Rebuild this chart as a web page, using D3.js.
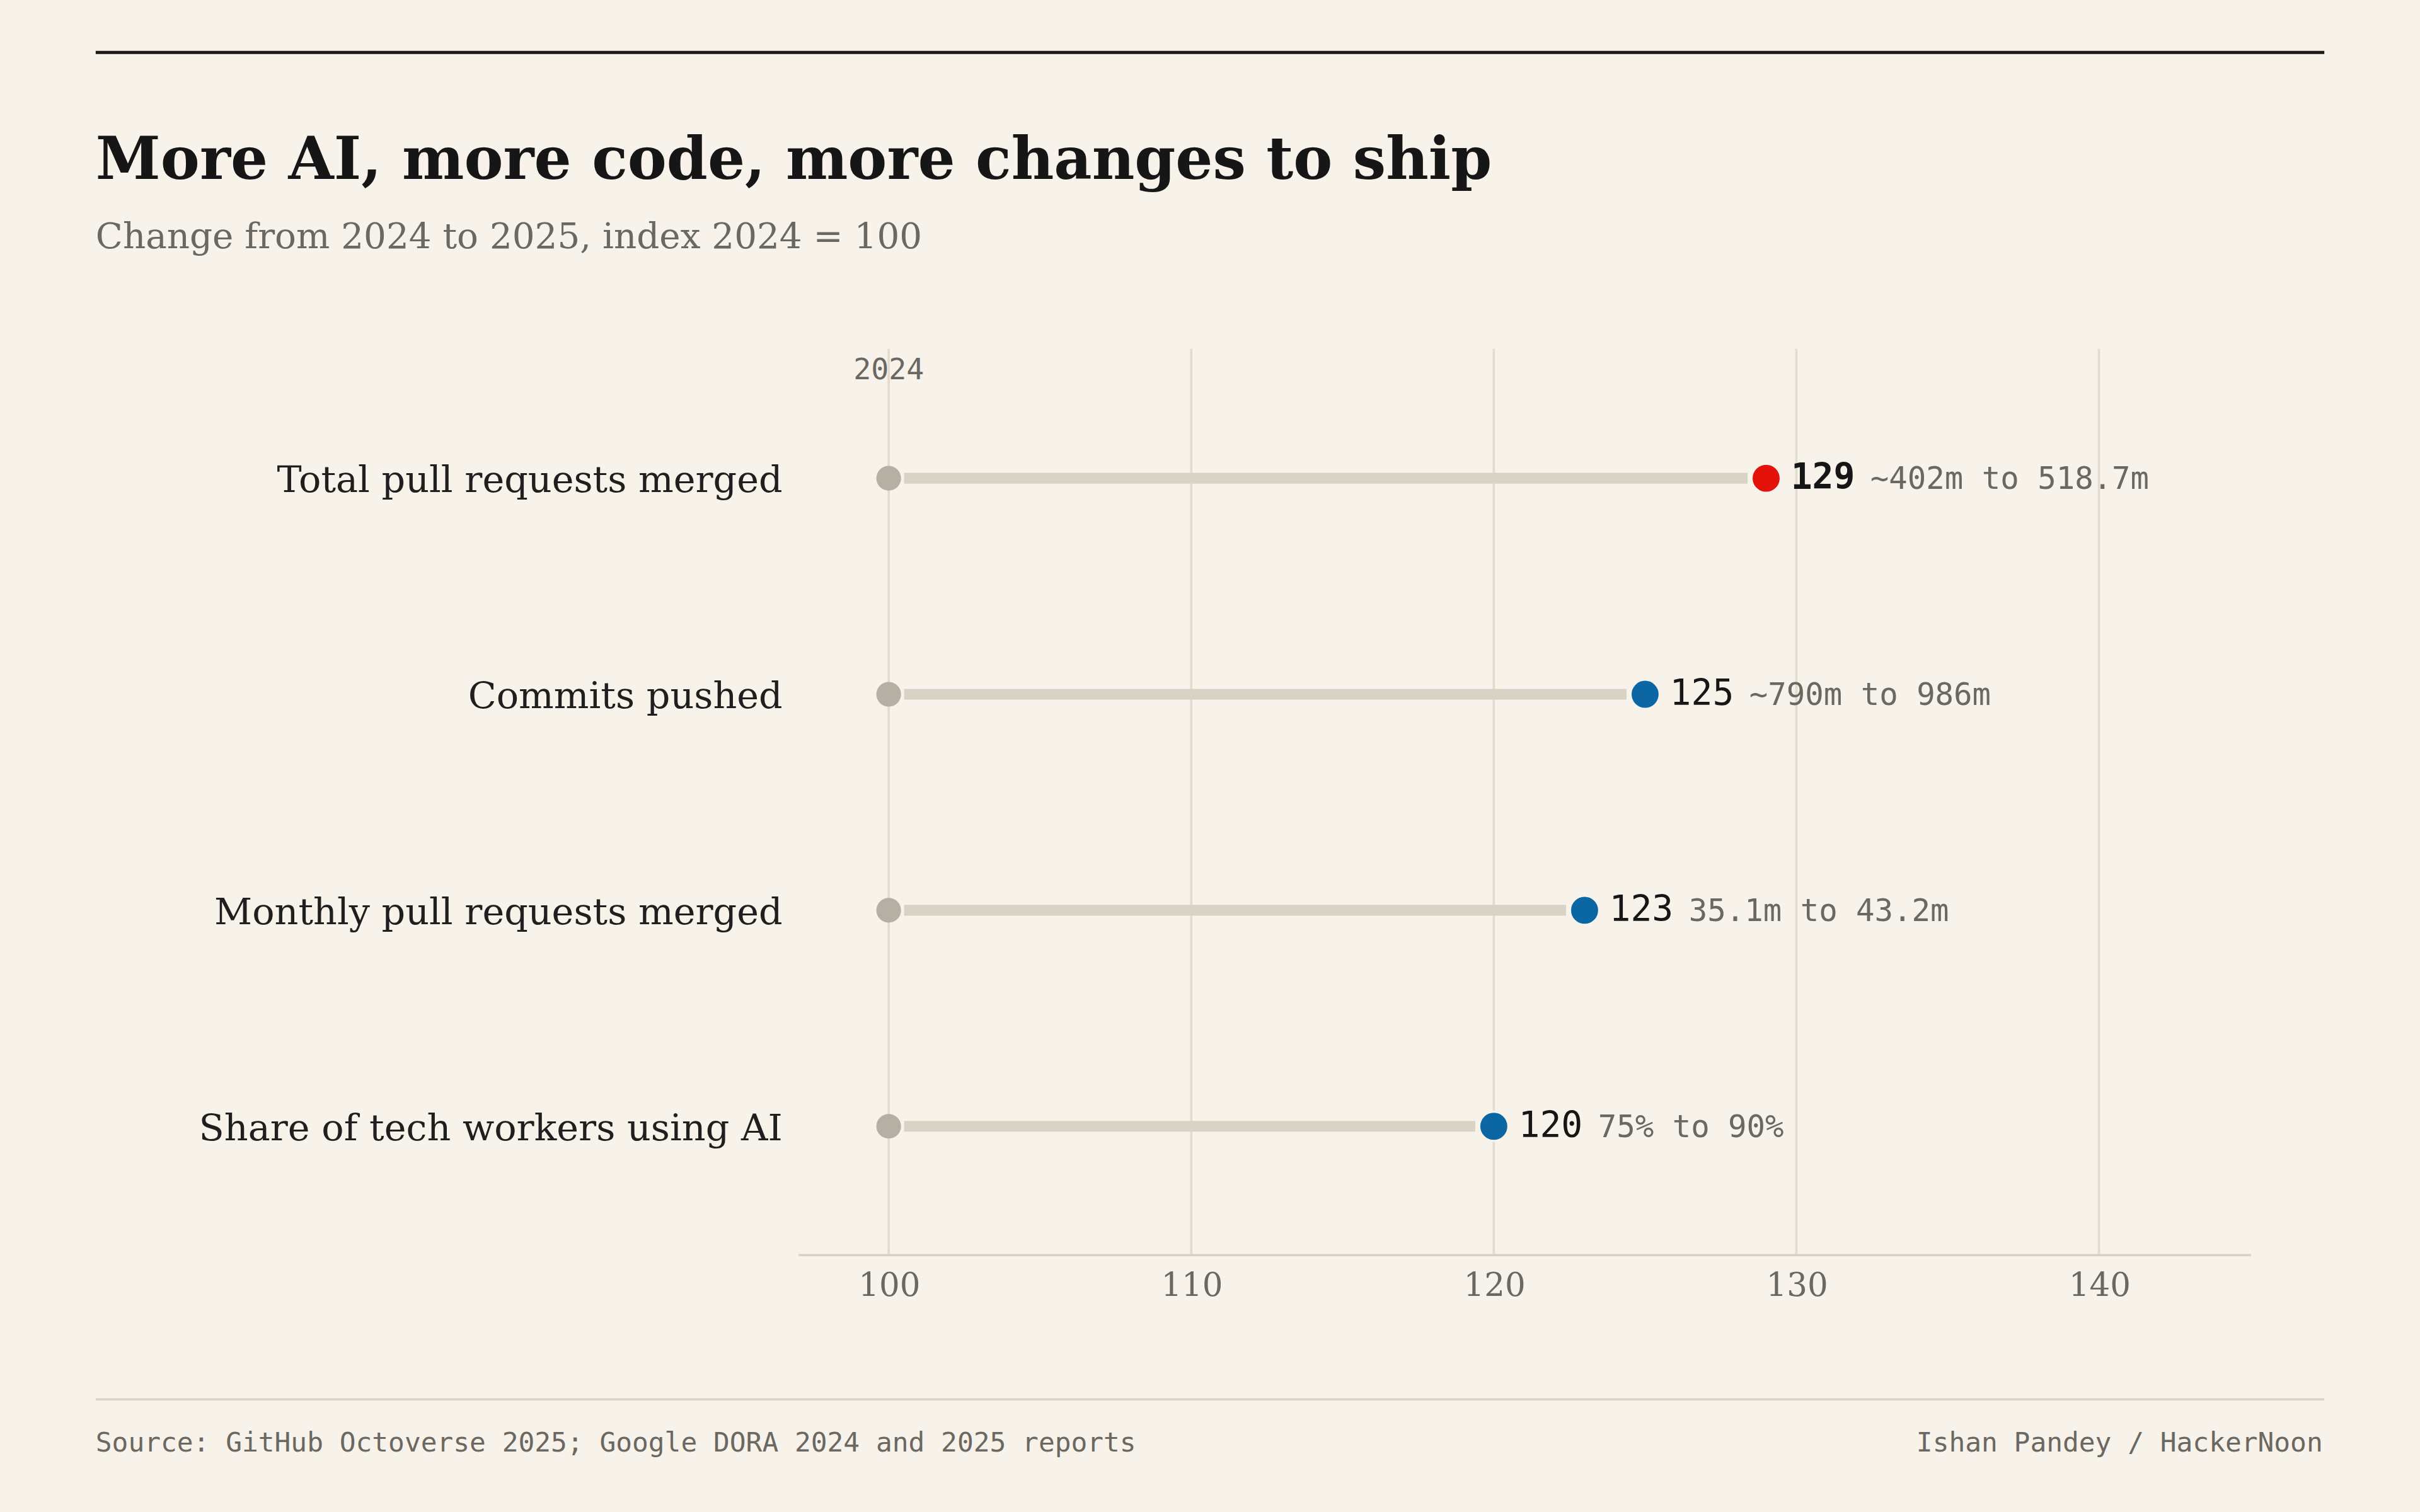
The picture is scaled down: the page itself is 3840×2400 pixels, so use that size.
<!DOCTYPE html>
<html>
<head>
<meta charset="utf-8">
<script src="https://cdn.jsdelivr.net/npm/d3@7"></script>
<style>
  html, body { margin: 0; padding: 0; background: #f7f2ea; }
  svg { display: block; }
</style>
</head>
<body>
<div id="chart"></div>
<script>
// data
var categories = ["Total pull requests merged", "Commits pushed", "Monthly pull requests merged", "Share of tech workers using AI"];
var values2025 = [129, 125, 123, 120];
var rawRanges = ["~402m to 518.7m", "~790m to 986m", "35.1m to 43.2m", "75% to 90%"];
var highlight = [true, false, false, false];
var xTicks = [100, 110, 120, 130, 140];
var baseline = 100;

var W = 1568, H = 980;
var serif = "'DejaVu Serif', 'Liberation Serif', serif";
var mono = "'DejaVu Sans Mono', 'Liberation Mono', monospace";

var svg = d3.select("#chart").append("svg")
    .attr("width", 3840).attr("height", 2400)
    .attr("viewBox", "0 0 " + W + " " + H);

svg.append("rect").attr("width", W).attr("height", H).attr("fill", "#f7f2ea");

// top rule
svg.append("line").attr("x1", 62).attr("x2", 1506).attr("y1", 34).attr("y2", 34)
    .attr("stroke", "#1a1a1a").attr("stroke-width", 2);

svg.append("text").attr("x", 62).attr("y", 116)
    .attr("font-family", serif).attr("font-weight", "bold").attr("font-size", 38)
    .attr("fill", "#161616").text("More AI, more code, more changes to ship");

svg.append("text").attr("x", 62).attr("y", 161)
    .attr("font-family", serif).attr("font-size", 23)
    .attr("fill", "#6b6761").text("Change from 2024 to 2025, index 2024 = 100");

var x = d3.scaleLinear().domain([97, 145]).range([517, 1458]);
var y = d3.scalePoint().domain(categories).range([310, 730]);

// gridlines
svg.selectAll(".grid").data(xTicks).enter().append("line")
    .attr("x1", function(d) { return x(d); }).attr("x2", function(d) { return x(d); })
    .attr("y1", 226).attr("y2", 813)
    .attr("stroke", "#e1dccf").attr("stroke-width", 1.5);

// axis
var axis = svg.append("g").attr("transform", "translate(0,813)")
    .call(d3.axisBottom(x).tickValues(xTicks).tickSize(0).tickPadding(12));
axis.select(".domain").attr("stroke", "#d8d2c6").attr("stroke-width", 1.5);
axis.selectAll("text").attr("font-family", serif).attr("font-size", 21).attr("fill", "#6b6761");

svg.append("text").attr("x", x(baseline)).attr("y", 246).attr("text-anchor", "middle")
    .attr("font-family", mono).attr("font-size", 19).attr("fill", "#6b6761").text("2024");

var rows = svg.selectAll(".row").data(categories).enter().append("g")
    .attr("transform", function(d) { return "translate(0," + y(d) + ")"; });

rows.append("text").attr("x", 507).attr("y", 9).attr("text-anchor", "end")
    .attr("font-family", serif).attr("font-size", 24).attr("fill", "#1f1f1f")
    .text(function(d) { return d; });

rows.append("line")
    .attr("x1", x(baseline) + 10)
    .attr("x2", function(d, i) { return x(values2025[i]) - 12; })
    .attr("stroke", "#d9d3c5").attr("stroke-width", 7);

rows.append("circle").attr("cx", x(baseline)).attr("r", 8).attr("fill", "#b5afa4");

rows.append("circle").attr("cx", function(d, i) { return x(values2025[i]); }).attr("r", 9.5)
    .attr("fill", function(d, i) { return highlight[i] ? "#e3120b" : "#0a67a3"; })
    .attr("stroke", "#f7f2ea").attr("stroke-width", 1.5);

var lab = rows.append("text").attr("x", function(d, i) { return x(values2025[i]) + 16; }).attr("y", 7)
    .attr("font-family", mono);
lab.append("tspan").attr("font-size", 23).attr("fill", "#161616")
    .attr("font-weight", function(d, i) { return highlight[i] ? "bold" : "normal"; })
    .text(function(d, i) { return values2025[i]; });
lab.append("tspan").attr("dx", 10).attr("font-size", 20).attr("fill", "#6b6761")
    .text(function(d, i) { return rawRanges[i]; });

// footer
svg.append("line").attr("x1", 62).attr("x2", 1506).attr("y1", 907).attr("y2", 907)
    .attr("stroke", "#d8d2c6").attr("stroke-width", 1.5);
svg.append("text").attr("x", 62).attr("y", 941)
    .attr("font-family", mono).attr("font-size", 17.5).attr("fill", "#6b6761")
    .text("Source: GitHub Octoverse 2025; Google DORA 2024 and 2025 reports");
svg.append("text").attr("x", 1505).attr("y", 941).attr("text-anchor", "end")
    .attr("font-family", mono).attr("font-size", 17.5).attr("fill", "#6b6761")
    .text("Ishan Pandey / HackerNoon");
</script>
</body>
</html>
